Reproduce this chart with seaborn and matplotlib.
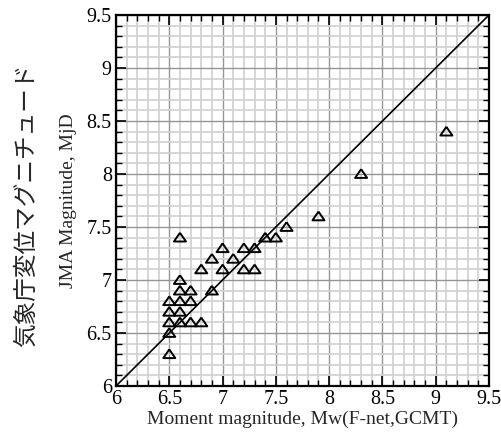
import numpy as np
import pandas as pd
import seaborn as sns
import matplotlib
matplotlib.use("Agg")
import matplotlib.pyplot as plt
from matplotlib.ticker import MultipleLocator, FuncFormatter

# moment magnitude (F-net, GCMT) and JMA magnitude
mw = [6.6, 7.0, 7.2, 7.3, 7.4, 7.5, 7.6, 6.9, 7.1, 6.8, 7.0, 7.2, 7.3,
      6.6, 6.6, 6.7, 6.5, 6.6, 6.7, 6.5, 6.6, 6.5, 6.6, 6.7, 6.8, 6.9,
      6.5, 6.5, 7.9, 8.3, 9.1]
mjd = [7.4, 7.3, 7.3, 7.3, 7.4, 7.4, 7.5, 7.2, 7.2, 7.1, 7.1, 7.1, 7.1,
       7.0, 6.9, 6.9, 6.8, 6.8, 6.8, 6.7, 6.7, 6.6, 6.6, 6.6, 6.6, 6.9,
       6.5, 6.3, 7.6, 8.0, 8.4]
diag = [6.0, 9.5]

df = pd.DataFrame({"mw": mw, "mjd": mjd})
line_df = pd.DataFrame({"x": diag, "y": diag})

sns.set_style("ticks")
plt.rcParams['font.family'] = ['Liberation Serif', 'DejaVu Serif']

fig = plt.figure(figsize=(5.01, 4.34), dpi=100)
ax = fig.add_axes([116 / 501, 48 / 434, 373 / 501, 371 / 434])

# flat open triangle
tri = [(0, 0.8), (-1, -0.65), (1, -0.65), (0, 0.8)]

sns.lineplot(data=line_df, x="x", y="y", color="black", linewidth=1.2, ax=ax, zorder=3)
sns.scatterplot(data=df, x="mw", y="mjd", marker=tri, s=75, facecolor="none",
                edgecolor="black", linewidth=1.4, ax=ax, zorder=4)

ax.set_xlim(6, 9.5)
ax.set_ylim(6, 9.5)
for axis in (ax.xaxis, ax.yaxis):
    axis.set_major_locator(MultipleLocator(0.5))
    axis.set_minor_locator(MultipleLocator(0.1))
    axis.set_major_formatter(FuncFormatter(lambda v, p: "%g" % v))

ax.grid(which="minor", color="#d0d0d0", linewidth=1.2, zorder=0)
ax.grid(which="major", color="#959595", linewidth=1.0, zorder=0)
ax.set_axisbelow(True)

ax.tick_params(which="both", direction="in", top=True, right=True, colors="black",
               labelsize=14.5)
ax.tick_params(which="major", length=7, width=1.2)
ax.tick_params(which="minor", length=4, width=1.0)
ax.tick_params(axis="x", pad=3)
ax.tick_params(axis="y", pad=3)
for s in ax.spines.values():
    s.set_linewidth(1.6)
    s.set_color("black")

ax.set_xlabel("Moment magnitude, Mw(F-net,GCMT)", fontsize=14, labelpad=1)
ax.set_ylabel("JMA Magnitude, MjD", fontsize=14, labelpad=7)

fig.text(26 / 501, 1 - 205 / 434, "気象庁変位マグニチュード", rotation=90,
         ha="center", va="center", fontsize=17,
         family=["Noto Sans CJK JP", "DejaVu Sans"])

fig.savefig("out.png", dpi=100)
